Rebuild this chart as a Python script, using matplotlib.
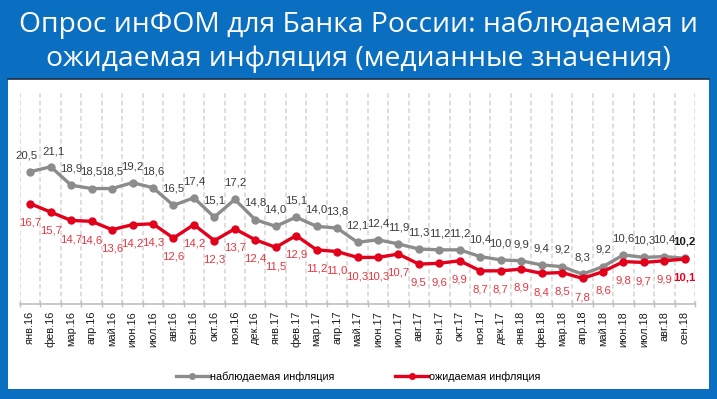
import matplotlib
matplotlib.use("Agg")
import matplotlib.pyplot as plt
from matplotlib.patches import Rectangle
from matplotlib.lines import Line2D
import numpy as np

months = ["янв.16", "фев.16", "мар.16", "апр.16", "май.16", "июн.16", "июл.16", "авг.16",
          "сен.16", "окт.16", "ноя.16", "дек.16", "янв.17", "фев.17", "мар.17", "апр.17",
          "май.17", "июн.17", "июл.17", "авг.17", "сен.17", "окт.17", "ноя.17", "дек.17",
          "янв.18", "фев.18", "мар.18", "апр.18", "май.18", "июн.18", "июл.18", "авг.18", "сен.18"]
observed = [20.5, 21.1, 18.9, 18.5, 18.5, 19.2, 18.6, 16.5, 17.4, 15.1, 17.2, 14.8, 14.0, 15.1,
            14.0, 13.8, 12.1, 12.4, 11.9, 11.3, 11.2, 11.2, 10.4, 10.0, 9.9, 9.4, 9.2, 8.3, 9.2,
            10.6, 10.3, 10.4, 10.2]
expected = [16.7, 15.7, 14.7, 14.6, 13.6, 14.2, 14.3, 12.6, 14.2, 12.3, 13.7, 12.4, 11.5, 12.9,
            11.2, 11.0, 10.3, 10.3, 10.7, 9.5, 9.6, 9.9, 8.7, 8.7, 8.9, 8.4, 8.5, 7.8, 8.6,
            9.8, 9.7, 9.9, 10.1]
title = "Опрос инФОМ для Банка России: наблюдаемая и\nожидаемая инфляция (медианные значения)"
legend_labels = ["наблюдаемая инфляция", "ожидаемая инфляция"]

W, H = 717, 399
BLUE = "#0a6fc0"
GRAY = "#8c8c8c"
RED = "#e3001b"
LABEL_RED = "#e8353f"
NARROW = ["Liberation Sans", "DejaVu Sans"]

fig = plt.figure(figsize=(W / 100, H / 100), dpi=100)
fig.patch.set_facecolor(BLUE)

# white panel
fig.add_artist(Rectangle((8 / W, 1 - 389 / H), (709 - 8) / W, (389 - 79) / H,
                         transform=fig.transFigure, facecolor="white", edgecolor="none", zorder=0))
fig.add_artist(Line2D([8 / W, 709 / W], [1 - 79 / H, 1 - 79 / H], transform=fig.transFigure,
                      color="#1d2f45", lw=1.2, zorder=1))

fig.text(0.5, 1 - 42 / H, title, ha="center", va="center", color="white",
         fontsize=20.3, family=["Open Sans", "DejaVu Sans"], linespacing=1.28)

ax = fig.add_axes([20 / W, 1 - 304 / H, (695 - 20) / W, (304 - 92) / H])
ax.set_facecolor("none")
x = np.arange(len(months))
ax.set_xlim(-0.5, len(months) - 0.5)
ax.set_ylim(4.75, 30)

for b in np.arange(-0.5, len(months), 1.0):
    ax.axvline(b, color="#d4d4d4", lw=1.1, ls=(0, (3, 2)), zorder=1)

ax.plot(x, observed, color=GRAY, lw=2.4, marker="o", ms=5, zorder=3)
ax.plot(x, expected, color=RED, lw=2.4, marker="o", ms=5, zorder=4)

def fmt(v):
    return f"{v:.1f}".replace(".", ",")

n = len(months)
for i in range(n):
    last = i == n - 1
    dx_o = 0
    if i == 0:
        dx_o = -3
    if i == 1:
        dx_o = 2
    ax.annotate(fmt(observed[i]), (x[i], observed[i]), xytext=(dx_o, 12 if i != 1 else 11),
                textcoords="offset points", ha="center", va="center", fontsize=8.2,
                color="#1a1a1a" if last else "#3a3a3a", family=NARROW,
                fontweight="bold" if last else "normal", zorder=5)
    ax.annotate(fmt(expected[i]), (x[i], expected[i]), xytext=(0, -13.5),
                textcoords="offset points", ha="center", va="center", fontsize=8.2,
                color="#e3001b" if last else LABEL_RED, family=NARROW,
                fontweight="bold" if last else "normal", zorder=5)

for s in ["top", "right", "left"]:
    ax.spines[s].set_visible(False)
ax.spines["bottom"].set_color("#bfbfbf")
ax.spines["bottom"].set_linewidth(1.2)
ax.set_yticks([])
ax.set_xticks(x)
ax.set_xticklabels(months, rotation=90, fontsize=7.9, family=NARROW, color="#1a1a1a")
ax.tick_params(axis="x", which="major", length=0, pad=5)
ax.set_xticks(np.arange(-0.5, n, 1.0), minor=True)
ax.tick_params(axis="x", which="minor", length=4, direction="inout", color="#bfbfbf", width=1)

handles = [Line2D([], [], color=GRAY, lw=2.4, marker="o", ms=4),
           Line2D([], [], color=RED, lw=2.4, marker="o", ms=4)]
fig.legend(handles, legend_labels, loc="center", bbox_to_anchor=(0.5, 1 - 377 / H), ncol=2,
           frameon=False, prop={"family": NARROW, "size": 7.8}, columnspacing=5.6,
           handlelength=3.0, handletextpad=0.15)

fig.savefig("out.png", dpi=100, facecolor=BLUE)
